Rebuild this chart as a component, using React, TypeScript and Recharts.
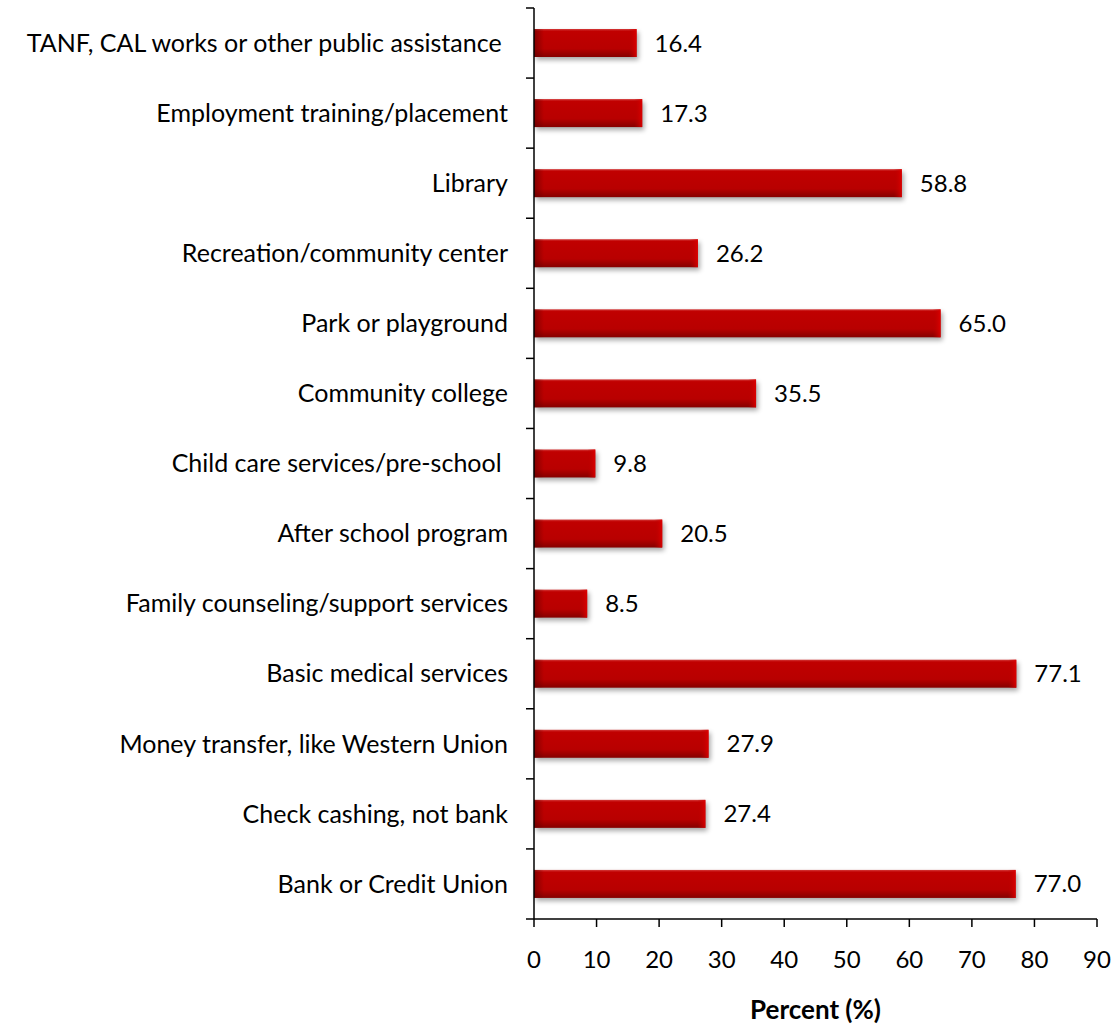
import React from 'react';
import { BarChart, Bar, XAxis, YAxis, LabelList } from 'recharts';

const categories: string[] = [
  'TANF, CAL works or other public assistance ',
  'Employment training/placement',
  'Library',
  'Recreation/community center',
  'Park or playground',
  'Community college',
  'Child care services/pre-school ',
  'After school program',
  'Family counseling/support services',
  'Basic medical services',
  'Money transfer, like Western Union',
  'Check cashing, not bank',
  'Bank or Credit Union',
];

const percents: number[] = [16.4, 17.3, 58.8, 26.2, 65.0, 35.5, 9.8, 20.5, 8.5, 77.1, 27.9, 27.4, 77.0];

const xTicks: number[] = [0, 10, 20, 30, 40, 50, 60, 70, 80, 90];

const data = categories.map((c, i) => ({ name: c, value: percents[i] }));

const FONT = 'Lato, "Open Sans", sans-serif';
const CHART_W = 1112;
const CHART_H = 1024;
const MARGIN_TOP = 8;
const X_AXIS_H = 105;
const TICK_SIZE = 8;
const TICK_MARGIN = 18;
const PLOT_H = CHART_H - MARGIN_TOP - X_AXIS_H;

const BarShape = (props: any) => {
  const { x, y, width, height } = props;
  if (!width || width <= 0) return null;
  const hl = Math.min(8, width);
  return (
    <g>
      <rect x={x + 2} y={y + 3} width={width} height={height} fill="#000" opacity={0.35} filter="url(#barShadow)" />
      <rect x={x} y={y} width={width} height={height} fill="url(#barGrad)" />
      <rect x={x + width - hl} y={y} width={hl} height={height} fill="url(#endGrad)" />
      <rect x={x} y={y} width={Math.min(10, width)} height={height} fill="url(#startGrad)" />
    </g>
  );
};

const YTick = (props: any) => {
  const { x, y, payload, index } = props;
  const band = PLOT_H / categories.length;
  const axisX = x + TICK_SIZE + TICK_MARGIN;
  const isLast = index === categories.length - 1;
  return (
    <g>
      <line x1={axisX - TICK_SIZE} x2={axisX} y1={y - band / 2} y2={y - band / 2} stroke="#000" strokeWidth={1.5} />
      {isLast && (
        <line x1={axisX - TICK_SIZE} x2={axisX} y1={y + band / 2} y2={y + band / 2} stroke="#000" strokeWidth={1.5} />
      )}
      <text x={x} y={y} dy="0.35em" textAnchor="end" fontFamily={FONT} fontSize={25} fill="#000" xmlSpace="preserve" style={{ whiteSpace: 'pre' }}>
        {payload.value}
      </text>
    </g>
  );
};

export default function App() {
  return (
    <div style={{ position: 'absolute', left: 0, top: 0, width: CHART_W, height: CHART_H, background: '#fff' }}>
      <BarChart
        width={CHART_W}
        height={CHART_H}
        data={data}
        layout="vertical"
        margin={{ top: MARGIN_TOP, right: 15, left: 0, bottom: 0 }}
      >
        <defs>
          <linearGradient id="barGrad" x1="0" y1="0" x2="0" y2="1">
            <stop offset="0" stopColor="#d43a3a" />
            <stop offset="0.08" stopColor="#c00000" />
            <stop offset="0.7" stopColor="#b80000" />
            <stop offset="1" stopColor="#850000" />
          </linearGradient>
          <linearGradient id="endGrad" x1="0" y1="0" x2="1" y2="0">
            <stop offset="0" stopColor="#b80000" stopOpacity={0} />
            <stop offset="1" stopColor="#e00000" stopOpacity={0.9} />
          </linearGradient>
          <linearGradient id="startGrad" x1="0" y1="0" x2="1" y2="0">
            <stop offset="0" stopColor="#600000" stopOpacity={0.6} />
            <stop offset="1" stopColor="#600000" stopOpacity={0} />
          </linearGradient>
          <filter id="barShadow" x="-10%" y="-50%" width="120%" height="200%">
            <feGaussianBlur stdDeviation="2.5" />
          </filter>
        </defs>
        <XAxis
          type="number"
          domain={[0, 90]}
          ticks={xTicks}
          interval={0}
          height={X_AXIS_H}
          axisLine={{ stroke: '#000', strokeWidth: 1.5 }}
          tickLine={{ stroke: '#000', strokeWidth: 1.5 }}
          tickSize={8}
          tickMargin={24}
          tick={{ fill: '#000', fontSize: 24, fontFamily: FONT }}
          label={{ value: 'Percent (%)', position: 'insideBottom', offset: 5, fill: '#000', fontSize: 26, fontWeight: 'bold', fontFamily: FONT }}
        />
        <YAxis
          type="category"
          dataKey="name"
          width={534}
          interval={0}
          axisLine={{ stroke: '#000', strokeWidth: 1.5 }}
          tickLine={false}
          tickSize={TICK_SIZE}
          tickMargin={TICK_MARGIN}
          tick={<YTick />}
        />
        <Bar dataKey="value" barSize={28} shape={<BarShape />} isAnimationActive={false}>
          <LabelList
            dataKey="value"
            position="right"
            offset={18}
            formatter={(v: any) => Number(v).toFixed(1)}
            style={{ fill: '#000', fontSize: 24, fontFamily: FONT }}
          />
        </Bar>
      </BarChart>
    </div>
  );
}
